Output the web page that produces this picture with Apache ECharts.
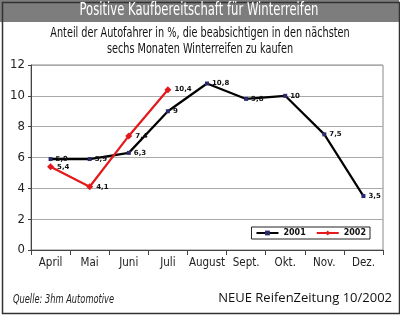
<!DOCTYPE html>
<html><head><meta charset="utf-8">
<script src="https://cdn.jsdelivr.net/npm/echarts@6/dist/echarts.min.js"></script>
<style>html,body{margin:0;padding:0;background:#fff}#c{width:400px;height:329px}</style>
</head><body><div id="c"></div>
<script>
const categories = ['April','Mai','Juni','Juli','August','Sept.','Okt.','Nov.','Dez.'];
const values2001 = [5.9, 5.9, 6.3, 9, 10.8, 9.8, 10, 7.5, 3.5];
const values2002 = [5.4, 4.1, 7.4, 10.4, null, null, null, null, null];
const yTicks = [0, 2, 4, 6, 8, 10, 12];

const NARROW = '"DejaVu Sans Condensed", sans-serif';
const chart = echarts.init(document.getElementById('c'), null, {renderer:'canvas'});
const fmt = p => String(p.value).replace('.', ',');
const lbl = {show:true, position:'right', distance:3, fontSize:7, fontWeight:'bold', color:'#111', fontFamily:'DejaVu Sans', formatter: fmt};
chart.setOption({
  animation:false,
  backgroundColor:'#fff',
  graphic:[
    {type:'rect', left:0, top:0, shape:{width:399, height:22}, style:{fill:'#7d7d7d'}, z:-1},
    {type:'rect', left:0, top:0, shape:{x:0.5,y:0.5,width:397, height:311}, style:{fill:null, stroke:'#333', lineWidth:1.5}},
    {type:'text', x:199, y:11, scaleX:0.76, style:{text:'Positive Kaufbereitschaft für Winterreifen', font:'17px '+NARROW, fill:'#fff', textAlign:'center', textVerticalAlign:'middle'}},
    {type:'text', x:200, y:33, scaleX:0.77, style:{text:'Anteil der Autofahrer in %, die beabsichtigen in den nächsten', font:'14px '+NARROW, fill:'#111', textAlign:'center', textVerticalAlign:'middle'}},
    {type:'text', x:200, y:49, scaleX:0.77, style:{text:'sechs Monaten Winterreifen zu kaufen', font:'14px '+NARROW, fill:'#111', textAlign:'center', textVerticalAlign:'middle'}},
    {type:'text', x:13, y:300, scaleX:0.8, style:{text:'Quelle: 3hm Automotive', font:'italic 11.5px '+NARROW, fill:'#222', textVerticalAlign:'middle'}},
    {type:'text', x:392, y:298, style:{text:'NEUE ReifenZeitung 10/2002', font:'13px "Open Sans"', fill:'#111', textAlign:'right', textVerticalAlign:'middle'}}
  ],
  legend:{
    right:30, top:227, itemWidth:22, itemHeight:6, itemGap:10,
    backgroundColor:'#fff', borderColor:'#222', borderWidth:1, padding:[2,4],
    textStyle:{fontSize:8, fontWeight:'bold', fontFamily:'DejaVu Sans', color:'#111'},
    data:['2001','2002']
  },
  grid:{left:31, right:17, top:65, bottom:79, show:true, borderColor:'#888', borderWidth:1, backgroundColor:'#fff'},
  xAxis:{type:'category', data:categories, boundaryGap:true,
    axisLine:{lineStyle:{color:'#444'}}, axisTick:{show:true, lineStyle:{color:'#444'}},
    axisLabel:{interval:0, fontSize:11.5, color:'#222', fontFamily:NARROW, margin:7}},
  yAxis:{type:'value', min:0, max:12, interval:2,
    axisLine:{show:true, lineStyle:{color:'#444'}}, axisTick:{show:true, length:3, lineStyle:{color:'#444'}},
    splitLine:{lineStyle:{color:'#aaa'}},
    axisLabel:{fontSize:13, color:'#222', fontFamily:NARROW, margin:6, formatter: v => yTicks.includes(v) ? String(v) : ''}},
  series:[
    {name:'2001', type:'line', data:values2001, symbol:'rect', symbolSize:4, itemStyle:{color:'#2b2b6b'}, lineStyle:{color:'#000', width:2.2}, label:lbl, z:2},
    {name:'2002', type:'line', data:values2002, symbol:'diamond', symbolSize:7, itemStyle:{color:'#e3191c'}, lineStyle:{color:'#e3191c', width:2.2}, label:lbl, z:3}
  ]
});
</script></body></html>
